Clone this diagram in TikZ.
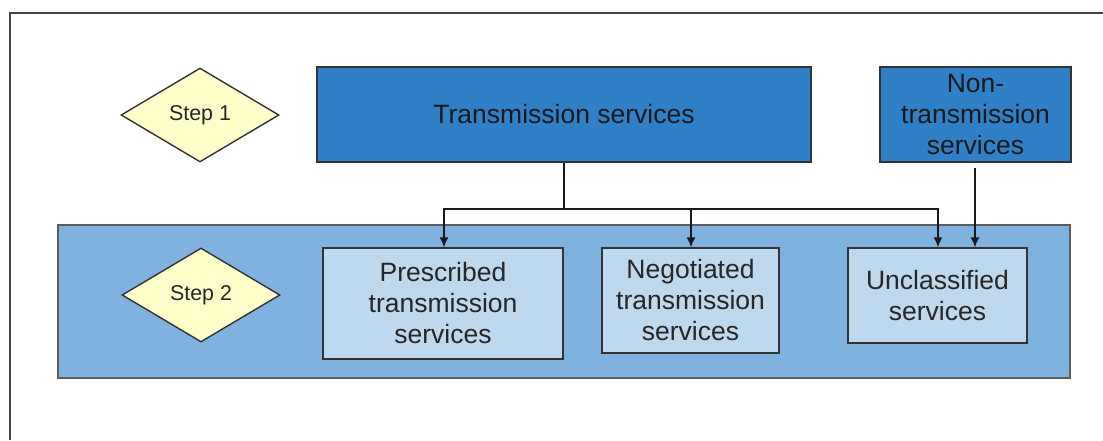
\documentclass[tikz,border=0pt]{standalone}
\usepackage{fontspec}
\setmainfont{Liberation Sans}
\usetikzlibrary{shapes.geometric,arrows.meta}
\definecolor{darkbox}{HTML}{3080C8}
\definecolor{bandblue}{HTML}{80B2E0}
\definecolor{lightbox}{HTML}{BED8EE}
\definecolor{stepyellow}{HTML}{FFFFCC}
\definecolor{edgegray}{HTML}{333333}
\definecolor{framegray}{HTML}{444444}
\tikzset{
  stepdiamond/.style={diamond, draw=edgegray, line width=0.7pt, fill=stepyellow,
    inner sep=0pt, minimum width=79pt, minimum height=47pt,
    font=\fontsize{10.7}{12.5}\selectfont, text=black!85},
  topbox/.style={rectangle, draw=edgegray, line width=0.7pt, fill=darkbox,
    inner sep=0pt, align=center, font=\fontsize{13.25}{15.3}\selectfont, text=black!90},
  subbox/.style={rectangle, draw=edgegray, line width=0.7pt, fill=lightbox,
    inner sep=0pt, align=center, font=\fontsize{13.25}{15.5}\selectfont, text=black!85},
  bandbox/.style={rectangle, draw=edgegray!80, line width=0.7pt, fill=bandblue, inner sep=0pt},
  conn/.style={draw=black!90, line width=0.75pt, -{Latex[length=5pt,width=4.5pt]}},
}
\begin{document}
\begin{tikzpicture}[x=0.5pt,y=-0.5pt]
\useasboundingbox (0,0) rectangle (1103,440);
% outer frame
\coordinate (fbl) at (10,440);
\coordinate (ftl) at (10,13);
\coordinate (ftr) at (1103,13);
\draw[framegray, line width=1.2pt] (fbl) -- (ftl) -- (ftr);
% step 2 band
\node[bandbox, minimum width=506pt, minimum height=76.5pt] (band) at (564,301.5) {};
% step diamonds
\node[stepdiamond] (step1) at (200,115) {Step 1};
\node[stepdiamond] (step2) at (201,295) {Step 2};
% top boxes
\node[topbox, minimum width=247pt, minimum height=47.5pt] (trans) at (564,114.5) {Transmission services};
\node[topbox, minimum width=95.5pt, minimum height=47.5pt] (nontrans) at (975.5,114.5) {Non-\\transmission\\services};
% sub boxes
\node[subbox, minimum width=120pt, minimum height=55.5pt] (presc) at (443,303.5) {Prescribed\\transmission\\services};
\node[subbox, minimum width=88.5pt, minimum height=52.5pt] (nego) at (690.5,300.5) {Negotiated\\transmission\\services};
\node[subbox, minimum width=89.5pt, minimum height=47.5pt] (uncl) at (937.5,295.5) {Unclassified\\services};
% connectors
\coordinate (split) at (564,209);
\draw[line width=0.75pt, black!90] (trans.south) -- (split);
\draw[conn] (split) -| (presc.north -| 444,0);
\draw[conn] (split) -| (nego.north -| 691,0);
\draw[conn] (split) -| (uncl.north -| 938,0);
\draw[conn, shorten <=2.5pt] (nontrans.south -| 975,0) -- (uncl.north -| 975,0);
\end{tikzpicture}
\end{document}
